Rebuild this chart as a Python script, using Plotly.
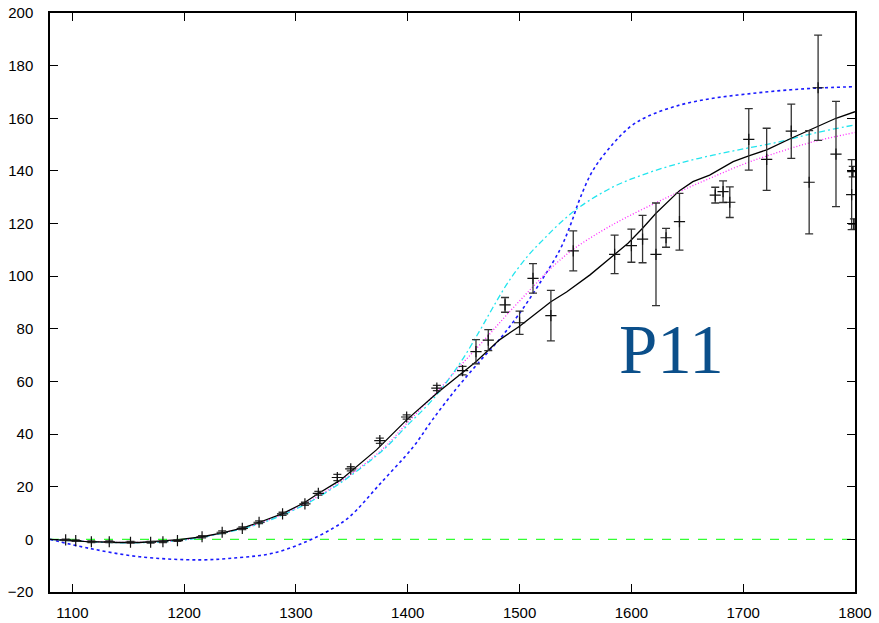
import plotly.graph_objects as go

# ---- measured data points (x, y, symmetric error) ----
data_x = [1094, 1103, 1117, 1133, 1152, 1170, 1181, 1194, 1216, 1234, 1252, 1267, 1288, 1308,
          1320, 1337, 1349, 1375, 1399, 1426, 1449, 1461, 1472, 1487, 1500, 1512, 1528, 1548,
          1585, 1600, 1610, 1622, 1631, 1643, 1675, 1682, 1688, 1705, 1721, 1743, 1759, 1767,
          1783, 1797, 1798, 1799]
data_y = [-0.2, -0.5, -0.9, -0.9, -1.1, -1.1, -0.9, -0.5, 1.0, 2.7, 4.2, 6.5, 9.7, 13.5,
          17.5, 23.5, 26.8, 37.5, 46.5, 57.5, 64.1, 71.3, 75.7, 89.1, 82.3, 99.2, 85.0, 109.6,
          108.3, 111.6, 114.1, 108.3, 114.6, 120.7, 130.8, 132.1, 128.1, 152.0, 144.4, 155.1, 135.7, 171.6,
          146.4, 131.0, 139.7, 119.8]
data_err = [0.3, 0.3, 0.3, 0.3, 0.3, 0.3, 0.3, 0.3, 0.4, 0.5, 0.5, 0.5, 0.6, 0.6,
            0.7, 1.2, 0.8, 1.0, 0.8, 1.0, 1.6, 4.6, 4.0, 2.8, 4.4, 5.6, 9.6, 7.6,
            7.3, 6.3, 9.0, 19.5, 3.6, 10.8, 3.0, 4.1, 5.8, 11.7, 11.8, 10.3, 19.6, 20.0,
            20.0, 13.3, 2.0, 2.0]

# ---- model curves ----
black_x = [1080, 1110, 1140, 1160, 1180, 1195, 1215, 1233, 1252, 1268, 1288, 1307, 1320, 1340,
           1372, 1399, 1426, 1449, 1461, 1482, 1500, 1528, 1542, 1563, 1585, 1597, 1610, 1622,
           1643, 1655, 1670, 1691, 1705, 1721, 1743, 1759, 1783, 1800]
black_y = [0.0, -0.8, -1.2, -1.2, -0.6, -0.1, 0.9, 2.4, 4.3, 6.6, 9.8, 13.8, 17.4, 22.6,
           34.0, 45.4, 55.5, 63.3, 67.5, 75.8, 81.0, 90.3, 94.0, 100.5, 108.3, 112.5, 118.2, 123.9,
           132.5, 135.9, 138.4, 143.5, 145.7, 148.0, 152.4, 155.5, 160.0, 162.5]

blue_x = [1080, 1115, 1160, 1214, 1250, 1279, 1309, 1333, 1348, 1375, 1405, 1422,
          1443, 1464, 1482, 1500, 1518, 1536, 1546, 1554, 1566, 1584, 1599, 1614, 1643, 1673,
          1703, 1733, 1763, 1800]
blue_y = [0.0, -3.4, -6.6, -7.8, -6.9, -5.3, -0.9, 4.2, 8.6, 21.0, 35.2, 45.4,
          57.0, 67.5, 76.0, 85.9, 97.3, 110.0, 120.0, 129.5, 140.5, 150.5, 156.8, 160.6, 165.0, 167.6,
          169.2, 170.5, 171.4, 172.0]

cyan_x = [1080, 1110, 1150, 1195, 1233, 1268, 1307, 1340, 1378, 1400, 1422, 1446, 1464, 1476,
          1491, 1508, 1521, 1536, 1554, 1584, 1614, 1643, 1673, 1703, 1733, 1763, 1800]
cyan_y = [0.0, -0.8, -1.3, -0.5, 2.2, 6.0, 13.0, 21.5, 34.0, 43.5, 53.0, 66.5, 79.0, 88.0,
          98.5, 108.0, 113.8, 120.1, 126.4, 134.0, 139.1, 142.9, 146.0, 148.6, 151.1, 154.3, 157.5]

magenta_x = [1080, 1150, 1195, 1233, 1268, 1307, 1340, 1378, 1400, 1425, 1446, 1470, 1490, 1512,
             1530, 1548, 1572, 1593, 1620, 1645, 1673, 1703, 1733, 1763, 1800]
magenta_y = [0.0, -1.2, -0.4, 2.3, 6.2, 13.3, 22.0, 34.5, 44.5, 55.5, 65.5, 76.5, 86.0, 96.0,
             103.8, 110.2, 116.8, 121.8, 127.5, 132.5, 137.7, 143.0, 147.3, 151.1, 154.6]

green_x = [1080, 1800]
green_y = [0, 0]

x_ticks = [1100, 1200, 1300, 1400, 1500, 1600, 1700, 1800]
y_ticks = [-20, 0, 20, 40, 60, 80, 100, 120, 140, 160, 180, 200]
label_text = "P11"

fig = go.Figure()

fig.add_trace(go.Scatter(x=green_x, y=green_y, mode="lines",
                         line=dict(color="#33ff33", width=1.4, dash="dash"), showlegend=False))
fig.add_trace(go.Scatter(x=blue_x, y=blue_y, mode="lines", line_shape="spline",
                         line=dict(color="#1a1aff", width=1.6, dash="dot"), showlegend=False))
fig.add_trace(go.Scatter(x=magenta_x, y=magenta_y, mode="lines", line_shape="spline",
                         line=dict(color="#ff22ff", width=1.3, dash="1px,2px"), showlegend=False))
fig.add_trace(go.Scatter(x=cyan_x, y=cyan_y, mode="lines", line_shape="spline",
                         line=dict(color="#22e5ee", width=1.3, dash="6px,3px,2px,3px"), showlegend=False))
fig.add_trace(go.Scatter(x=black_x, y=black_y, mode="lines",
                         line=dict(color="black", width=1.3), showlegend=False))
fig.add_trace(go.Scatter(x=data_x, y=data_y, mode="markers",
                         marker=dict(symbol="cross-thin", size=8,
                                     line=dict(color="#111111", width=1.2)),
                         error_y=dict(type="data", array=data_err, visible=True,
                                      color="#333333", thickness=1.3, width=4),
                         showlegend=False))

fig.add_annotation(x=1636, y=72, text=label_text, showarrow=False,
                   font=dict(family="Liberation Serif", size=69, color="#0b4f8a"))

axis_common = dict(showgrid=False, zeroline=False, showline=True, linecolor="black",
                   linewidth=1.5, mirror="allticks", ticks="inside", ticklen=8,
                   tickwidth=1, tickcolor="black", automargin=False,
                   tickfont=dict(family="Liberation Sans", size=15, color="black"))

fig.update_xaxes(range=[1080, 1800], tickvals=x_ticks, ticklabelstandoff=6, **axis_common)
fig.update_yaxes(range=[-20, 200], tickvals=y_ticks, ticklabelstandoff=12, **axis_common)

fig.update_layout(width=879, height=623, margin=dict(l=50, r=24, t=13, b=31),
                  plot_bgcolor="white", paper_bgcolor="white")

# remove the default page-body margin so the figure fills the window exactly
fig.write_html("out.html", config={"displayModeBar": False},
               post_script="document.body.style.margin='0';document.body.style.overflow='hidden';")
